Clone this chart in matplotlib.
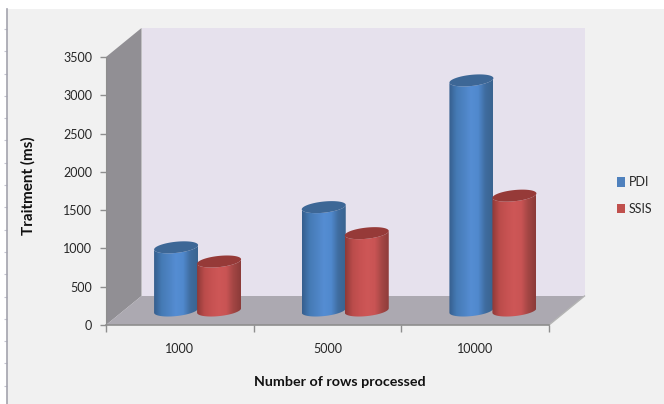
import matplotlib
matplotlib.use("Agg")
import matplotlib.pyplot as plt
import numpy as np
from matplotlib.colors import LinearSegmentedColormap
from matplotlib.patches import Patch, Polygon

categories = ["1000", "5000", "10000"]
pdi_ms = [825, 1350, 3005]
ssis_ms = [640, 1010, 1500]
y_ticks = [0, 500, 1000, 1500, 2000, 2500, 3000, 3500]

plt.rcParams["font.family"] = ["Lato", "DejaVu Sans"]

W, H = 664, 404
TEXT = "#262626"
EDGE = "#8e8e8e"

fig = plt.figure(figsize=(W / 100, H / 100), dpi=100, facecolor="white")

# light chart area with the ruler-like ticks on its left edge
bg = fig.add_axes([7 / W, 0, (W - 7) / W, (H - 9) / H], facecolor="#f1f1f1")
bg.set_xlim(7, W)
bg.set_ylim(H, 9)
for side in ["top", "right", "bottom"]:
    bg.spines[side].set_visible(False)
bg.spines["left"].set_color("#a3a3ad")
bg.spines["left"].set_linewidth(1.2)
bg.set_xticks([])
bg.set_yticks(np.arange(29, H, 22.3))
bg.tick_params(axis="y", length=2, width=0.8, color="#c4c4d0", labelleft=False)

ax = fig.add_axes([106 / W, (H - 325) / H, 443 / W, 268 / H], facecolor="none")
ax.set_xlim(0, 3)
ax.set_ylim(0, 3500)
x_px = 3 / 443
y_px = 3500 / 268

# depth of the 3D box, in data units
dx = 35.5 * x_px
dy = 29 * y_px


def box_face(points, color, zorder):
    ax.add_patch(Polygon(points, closed=True, facecolor=color, edgecolor="none",
                         zorder=zorder, clip_on=False))


box_face([(dx, dy), (3 + dx, dy), (3 + dx, 3500 + dy), (dx, 3500 + dy)], "#e6e1ed", 1)
box_face([(0, 0), (dx, dy), (dx, 3500 + dy), (0, 3500)], "#918f94", 1.1)
box_face([(0, 0), (3, 0), (3 + dx, dy), (dx, dy)], "#aca9b1", 1.2)
ax.plot([3, 3 + dx], [0, dy], color="#b4b4b4", lw=1, zorder=1.3, clip_on=False)

blue_side = LinearSegmentedColormap.from_list(
    "blue_side", ["#365f8e", "#457ab5", "#4d83c3", "#558dd3", "#5089cd", "#3f6c9f", "#3a6490"])
red_side = LinearSegmentedColormap.from_list(
    "red_side", ["#8f3a38", "#bb4c4b", "#c75252", "#ce5757", "#c95454", "#a34644", "#8c3b39"])
shade = np.linspace(0, 1, 64).reshape(1, -1)


def cylinder(center, value, cmap, top_color, zorder):
    half_w = 22 * x_px
    t = np.linspace(0, 2 * np.pi, 73)
    # the ellipse is sheared so its right side sits a little higher
    ex = center + half_w * np.cos(t)
    ey = y_px * (5.6 * np.sin(t) + 2.2 * np.cos(t))
    base_y = dy / 2
    lower = t[36:]
    outline_x = np.r_[center + half_w * np.cos(lower), center + half_w * np.cos(lower[::-1])]
    low_y = y_px * (5.6 * np.sin(lower) + 2.2 * np.cos(lower))
    up_y = y_px * (5.6 * np.sin(lower[::-1]) + 2.2 * np.cos(lower[::-1]))
    outline_y = np.r_[base_y + low_y, base_y + value + up_y]
    body = Polygon(np.c_[outline_x, outline_y], closed=True, transform=ax.transData,
                   facecolor="none", edgecolor="none")
    ax.add_patch(body)
    img = ax.imshow(shade, cmap=cmap, aspect="auto", zorder=zorder, interpolation="bilinear",
                    extent=[center - half_w, center + half_w, -200, 3900])
    img.set_clip_path(body)
    ax.fill(ex, base_y + value + ey, color=top_color, lw=0, zorder=zorder + 0.1, clip_on=False)


bar_w = 43 * x_px
for i in range(len(categories)):
    mid = i + 0.5 + dx / 2
    cylinder(mid - bar_w / 2, pdi_ms[i], blue_side, "#3d6796", 3 + i)
    cylinder(mid + bar_w / 2, ssis_ms[i], red_side, "#963a38", 3.3 + i)

ax.set_xlim(0, 3)
ax.set_ylim(0, 3500)

for side in ["top", "right"]:
    ax.spines[side].set_visible(False)
ax.spines["left"].set_color(EDGE)
ax.spines["bottom"].set_color(EDGE)
ax.spines["bottom"].set_linewidth(1.2)
ax.spines["left"].set_zorder(2)
ax.spines["bottom"].set_zorder(2)

ax.set_yticks(y_ticks)
ax.tick_params(axis="y", length=4, width=1, color=EDGE, labelsize=9, labelcolor=TEXT, pad=6)
ax.set_xticks([0, 1, 2, 3])
ax.set_xticklabels([])
ax.tick_params(axis="x", which="major", length=5, width=1, color=EDGE)
ax.set_xticks([0.5, 1.5, 2.5], labels=categories, minor=True)
ax.tick_params(axis="x", which="minor", length=0, labelsize=9, labelcolor=TEXT, pad=13)

fig.text(340 / W, 1 - 382 / H, "Number of rows processed", ha="center", va="center",
         fontsize=10.3, fontweight="bold", color="#111111")
fig.text(28 / W, 1 - 186 / H, "Traitment (ms)", ha="center", va="center", rotation=90,
         fontsize=11, fontweight="bold", color="#111111")

handles = [Patch(facecolor="#4f81bd", label="PDI"), Patch(facecolor="#c0504d", label="SSIS")]
fig.legend(handles=handles, loc="center left", bbox_to_anchor=(617 / W, 1 - 195.5 / H), frameon=False,
           fontsize=9, labelcolor=TEXT, handlelength=0.6, handleheight=0.8,
           handletextpad=0.35, labelspacing=1.15, borderpad=0, borderaxespad=0)

fig.savefig("out.png", dpi=100)
